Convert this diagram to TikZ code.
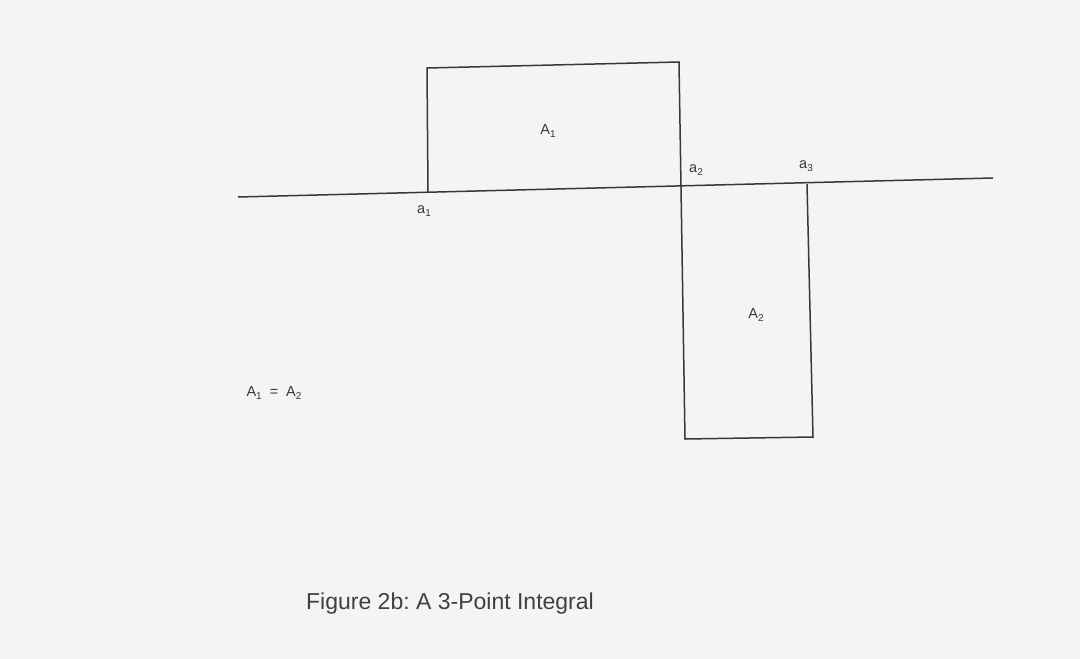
\documentclass[tikz,border=0pt]{standalone}
\usepackage{fontspec}
\setmainfont{Liberation Sans}
\newcommand\lowsub[1]{\raisebox{-0.35ex}{\fontsize{10}{12}\selectfont #1}}
\begin{document}
\frenchspacing
\begin{tikzpicture}[x=1pt,y=-1pt,
  ink/.style={draw=black!78, line width=1.5pt},
  lbl/.style={text=black!78, font=\fontsize{14.5}{17}\selectfont, inner sep=0pt},
  captiontext/.style={text=black!75, font=\fontsize{23}{27}\selectfont, inner sep=0pt}]
\definecolor{paper}{RGB}{244,244,242}
\fill[paper] (0,0) rectangle (1080,659);
\useasboundingbox (0,0) rectangle (1080,659);
% axis
\coordinate (axL) at (238,197);
\coordinate (axR) at (993,178);
\coordinate (a1) at (428,192);
\coordinate (a2) at (681,187);
\coordinate (a3) at (807,184);
\coordinate (t1) at (427,68);
\coordinate (t2) at (679,62);
\coordinate (b2) at (685,439);
\coordinate (b3) at (813,437);
\draw[ink] (axL) -- (axR);
\draw[ink] (a1) -- (t1) -- (t2) -- (a2);
\draw[ink] (a2) -- (b2) -- (b3) -- (a3);
% labels
\node[lbl] (LA1) at (548,131) {A\lowsub{1}};
\node[lbl] (La1) at (424,211) {a\lowsub{1}};
\node[lbl] (La2) at (696,170) {a\lowsub{2}};
\node[lbl] (La3) at (806,166) {a\lowsub{3}};
\node[lbl] (LA2) at (756,315) {A\lowsub{2}};
\node[lbl] (Leq) at (274,393) {A\lowsub{1}\hspace{8pt}=\hspace{8pt}A\lowsub{2}};
\node[captiontext] (Cap) at (450,604) {Figure 2b: A 3-Point Integral};
\end{tikzpicture}
\end{document}
